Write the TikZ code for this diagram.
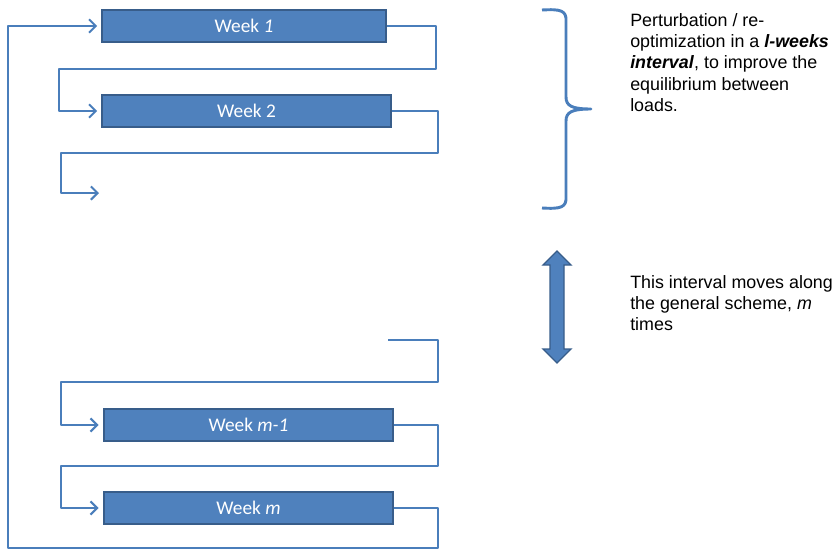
\documentclass[tikz,border=0pt]{standalone}
\usepackage{fontspec}
\setmainfont{Liberation Sans}
\newfontfamily\calib{Carlito}
\usetikzlibrary{arrows.meta}
\definecolor{boxfill}{HTML}{4F81BD}
\definecolor{boxdraw}{HTML}{385D8A}
\definecolor{linec}{HTML}{4A7EBB}
\tikzset{
  weekbox/.style={draw=boxdraw, line width=1.2pt, fill=boxfill, minimum height=24pt, inner sep=0pt, text=white, font=\calib\fontsize{14.5}{16}\selectfont},
  conn/.style={draw=linec, line width=1.5pt, line join=round, -{Straight Barb[length=5pt,width=10pt,line width=1.5pt]}},
  note/.style={anchor=north west, align=left, inner sep=0pt, font=\fontsize{13.4}{16}\selectfont}
}
\begin{document}
\begin{tikzpicture}[x=0.75pt,y=-0.75pt]
\useasboundingbox (0,0) rectangle (837,550);
\node[weekbox, minimum width=213pt] (w1) at (244,26) {Week \textit{1}};
\node[weekbox, minimum width=216.75pt] (w2) at (246.5,111) {Week 2};
\node[weekbox, minimum width=216.75pt] (w3) at (248.5,425) {Week \textit{m-1}};
\node[weekbox, minimum width=216.75pt] (w4) at (248.5,508) {Week \textit{m}};
\coordinate (e2) at (99,193);
\coordinate (s3) at (388,340);
\draw[conn] (w1.east) -| (436,69) -| (59,111) -- ([xshift=-3pt]w2.west);
\draw[conn] (w2.east) -| (438,153) -| (61,193) -- (e2);
\draw[conn] (s3) -| (438,382) -| (61,425) -- ([xshift=-3.5pt]w3.west);
\draw[conn] (w3.east) -| (438,466) -| (61,508) -- ([xshift=-3.5pt]w4.west);
\draw[conn] (w4.east) -| (438,548) -| (8,26) -- ([xshift=-3pt]w1.west);
% brace
\draw[draw=linec, line width=2.2pt, line join=round]
  (542,10) .. controls (560,9) and (567,10) .. (566,22) -- (566,97)
  .. controls (566,106) and (572,109) .. (591,109)
  .. controls (572,109) and (566,112) .. (566,121) -- (566,196)
  .. controls (567,208) and (560,209) .. (542,208);
% double arrow
\draw[fill=boxfill, draw=boxdraw, line width=1pt, line join=miter]
  (557,251) -- (571,265) -- (564,265) -- (564,349) -- (571,349) -- (557,363)
  -- (543,349) -- (550,349) -- (550,265) -- (543,265) -- cycle;
\node[note] (t1) at (630,13) {Perturbation / re-\\optimization in a \textbf{\textit{l-weeks}}\\\textbf{\textit{interval}}, to improve the\\equilibrium between\\loads.};
\node[note] (t2) at (630,275) {This interval moves along\\the general scheme, \textit{m}\\times};
\end{tikzpicture}
\end{document}
